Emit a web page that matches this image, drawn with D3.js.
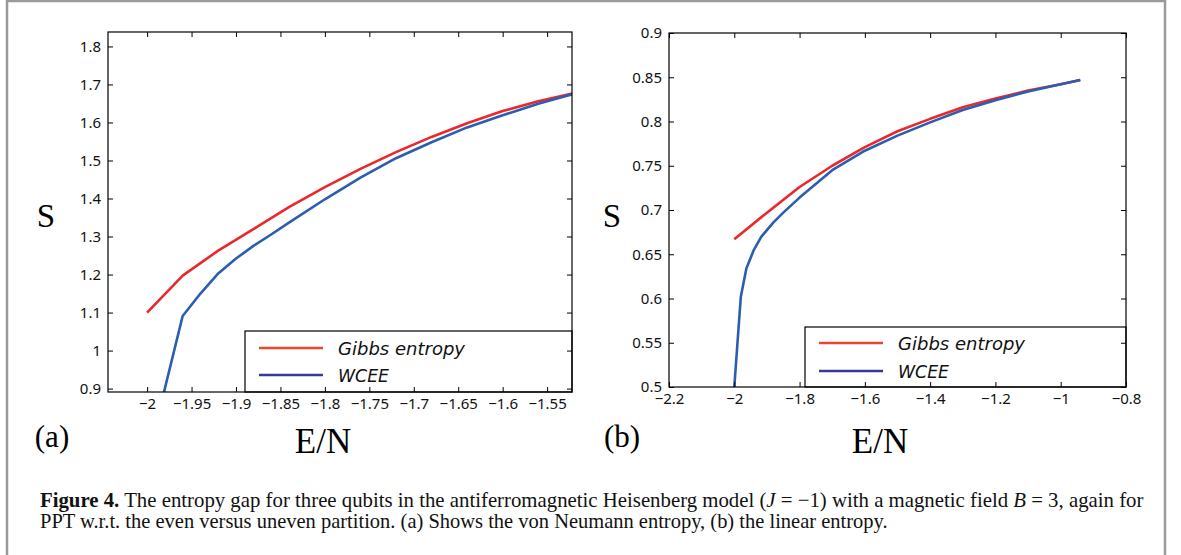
<!DOCTYPE html>
<html>
<head>
<meta charset="utf-8">
<script src="https://cdn.jsdelivr.net/npm/d3@7"></script>
<style>
  body { margin: 0; background: #fff; }
  svg { display: block; }
</style>
</head>
<body>
<div id="chart"></div>
<script>
// (a) von Neumann entropy
const gibbsA_E = [-2.0, -1.96, -1.92, -1.88, -1.84, -1.80, -1.76, -1.72, -1.68, -1.64, -1.60, -1.56, -1.52];
const gibbsA_S = [1.100, 1.197, 1.263, 1.320, 1.378, 1.430, 1.478, 1.522, 1.562, 1.598, 1.630, 1.656, 1.677];
const wceeA_E = [-2.0, -1.96, -1.94, -1.92, -1.90, -1.88, -1.86, -1.84, -1.80, -1.76, -1.72, -1.68, -1.64, -1.60, -1.56, -1.52];
const wceeA_S = [0.71, 1.091, 1.150, 1.203, 1.242, 1.276, 1.306, 1.337, 1.398, 1.455, 1.506, 1.548, 1.587, 1.619, 1.649, 1.675];
const xTicksA = [-2, -1.95, -1.9, -1.85, -1.8, -1.75, -1.7, -1.65, -1.6, -1.55];
const yTicksA = [0.9, 1, 1.1, 1.2, 1.3, 1.4, 1.5, 1.6, 1.7, 1.8];

// (b) linear entropy
const gibbsB_E = [-2.0, -1.9, -1.8, -1.7, -1.6, -1.5, -1.4, -1.3, -1.2, -1.1, -1.0, -0.94];
const gibbsB_S = [0.667, 0.697, 0.726, 0.750, 0.771, 0.789, 0.803, 0.816, 0.826, 0.835, 0.842, 0.847];
const wceeB_E = [-2.0, -1.98, -1.963, -1.94, -1.917, -1.88, -1.85, -1.8, -1.7, -1.6, -1.5, -1.4, -1.3, -1.2, -1.1, -1.0, -0.94];
const wceeB_S = [0.5, 0.602, 0.634, 0.655, 0.670, 0.686, 0.697, 0.714, 0.745, 0.767, 0.784, 0.799, 0.813, 0.824, 0.834, 0.842, 0.847];
const xTicksB = [-2.2, -2, -1.8, -1.6, -1.4, -1.2, -1, -0.8];
const yTicksB = [0.5, 0.55, 0.6, 0.65, 0.7, 0.75, 0.8, 0.85, 0.9];

const seriesNames = ['Gibbs entropy', 'WCEE'];

const W = 1181, H = 555;
const svg = d3.select('#chart').append('svg')
  .attr('width', W).attr('height', H);

// grey frame around the figure
svg.append('rect')
  .attr('x', 7).attr('y', 1).attr('width', 1158).attr('height', H + 10)
  .attr('fill', 'none').attr('stroke', '#9a9a9a').attr('stroke-width', 2.5);

const fmt = d3.format('~g');

const drawPanel = (p) => {
  const x = d3.scaleLinear().domain(p.xDomain).range([p.left, p.right]);
  const y = d3.scaleLinear().domain(p.yDomain).range([p.bottom, p.top]);
  const g = svg.append('g');

  const clipId = `clip-${p.tag}`;
  g.append('clipPath').attr('id', clipId)
    .append('rect')
    .attr('x', p.left).attr('y', p.top)
    .attr('width', p.right - p.left).attr('height', p.bottom - p.top);

  const line = d3.line().x((d) => x(d[0])).y((d) => y(d[1]));
  const curves = [
    { pts: d3.zip(p.gibbsE, p.gibbsS), color: '#e8292c' },
    { pts: d3.zip(p.wceeE, p.wceeS), color: '#2b5db0' },
  ];
  // blue drawn last, it sits on top where the lines meet
  curves.forEach((c) => {
    g.append('path')
      .attr('clip-path', `url(#${clipId})`)
      .attr('d', line(c.pts))
      .attr('fill', 'none')
      .attr('stroke', c.color)
      .attr('stroke-width', 2.6)
      .attr('stroke-linejoin', 'round');
  });

  // legend
  const lg = p.legend;
  g.append('rect')
    .attr('x', lg.x).attr('y', lg.y)
    .attr('width', p.right - lg.x).attr('height', p.bottom - lg.y)
    .attr('fill', '#fff').attr('stroke', '#000').attr('stroke-width', 1.2);
  const legendColors = ['#ec452c', '#35399a'];
  seriesNames.forEach((name, i) => {
    const ly = lg.y + lg.row0 + i * lg.step;
    g.append('line')
      .attr('x1', lg.x + 14).attr('x2', lg.x + 78)
      .attr('y1', ly).attr('y2', ly)
      .attr('stroke', legendColors[i]).attr('stroke-width', 2.6);
    g.append('text')
      .attr('x', lg.x + 93).attr('y', ly + 7)
      .attr('font-family', 'DejaVu Sans')
      .attr('font-style', 'italic')
      .attr('font-size', 17)
      .attr('textLength', i === 0 ? 127 : 51)
      .attr('lengthAdjust', 'spacingAndGlyphs')
      .attr('fill', '#111')
      .text(name);
  });

  // axes: MATLAB style box with inward ticks
  const tickFont = (sel) => sel.selectAll('text')
    .attr('font-family', 'Noto Sans, Open Sans, sans-serif')
    .attr('font-size', 15)
    .attr('fill', '#111');
  const clean = (sel) => {
    sel.select('.domain').remove();
    sel.selectAll('line').attr('stroke', '#000');
  };
  g.append('g').attr('transform', `translate(0,${p.bottom})`)
    .call(d3.axisBottom(x).tickValues(p.xTicks).tickFormat(fmt).tickSizeInner(-5).tickSizeOuter(0).tickPadding(6))
    .call(clean).call(tickFont);
  g.append('g').attr('transform', `translate(0,${p.top})`)
    .call(d3.axisTop(x).tickValues(p.xTicks).tickFormat('').tickSizeInner(-5).tickSizeOuter(0))
    .call(clean);
  g.append('g').attr('transform', `translate(${p.left},0)`)
    .call(d3.axisLeft(y).tickValues(p.yTicks).tickFormat(fmt).tickSizeInner(-5).tickSizeOuter(0).tickPadding(7))
    .call(clean).call(tickFont);
  g.append('g').attr('transform', `translate(${p.right},0)`)
    .call(d3.axisRight(y).tickValues(p.yTicks).tickFormat('').tickSizeInner(-5).tickSizeOuter(0))
    .call(clean);

  g.append('rect')
    .attr('x', p.left).attr('y', p.top)
    .attr('width', p.right - p.left).attr('height', p.bottom - p.top)
    .attr('fill', 'none').attr('stroke', '#000').attr('stroke-width', 1.2);

  // labels
  const serif = 'Liberation Serif, DejaVu Serif, serif';
  g.append('text')
    .attr('x', p.sX).attr('y', 227)
    .attr('text-anchor', 'middle')
    .attr('font-family', serif).attr('font-size', 33)
    .text('S');
  g.append('text')
    .attr('x', p.enX).attr('y', 453)
    .attr('text-anchor', 'middle')
    .attr('font-family', serif).attr('font-size', 35)
    .text('E/N');
  g.append('text')
    .attr('x', p.tagX).attr('y', 447)
    .attr('text-anchor', 'middle')
    .attr('font-family', serif).attr('font-size', 31)
    .text(`(${p.tag})`);
};

drawPanel({
  tag: 'a',
  left: 108, right: 572, top: 32, bottom: 392,
  xDomain: [-2.044, -1.522], yDomain: [0.891, 1.838],
  xTicks: xTicksA, yTicks: yTicksA,
  gibbsE: gibbsA_E, gibbsS: gibbsA_S, wceeE: wceeA_E, wceeS: wceeA_S,
  legend: { x: 245, y: 331, row0: 17, step: 27 },
  sX: 46, enX: 323, tagX: 52,
});

drawPanel({
  tag: 'b',
  left: 669, right: 1126, top: 33, bottom: 387,
  xDomain: [-2.2, -0.8], yDomain: [0.5, 0.9],
  xTicks: xTicksB, yTicks: yTicksB,
  gibbsE: gibbsB_E, gibbsS: gibbsB_S, wceeE: wceeB_E, wceeS: wceeB_S,
  legend: { x: 805, y: 327, row0: 16, step: 28 },
  sX: 612, enX: 880, tagX: 622,
});

// caption: condensed serif, squeezed horizontally to the printed width
const cap = svg.append('g')
  .attr('font-family', 'Liberation Serif, DejaVu Serif, serif')
  .attr('font-size', 21)
  .attr('fill', '#111');
const fitLine = (t, x0, y0, width) => {
  const k = width / t.node().getComputedTextLength();
  t.attr('transform', `translate(${x0},${y0}) scale(${k},1)`);
};
const l1 = cap.append('text');
l1.append('tspan').attr('font-weight', 'bold').text('Figure 4.');
l1.append('tspan').text(' The entropy gap for three qubits in the antiferromagnetic Heisenberg model (');
l1.append('tspan').attr('font-style', 'italic').text('J');
l1.append('tspan').text(' = −1) with a magnetic field ');
l1.append('tspan').attr('font-style', 'italic').text('B');
l1.append('tspan').text(' = 3, again for');
fitLine(l1, 40, 507, 1104);
const l2 = cap.append('text')
  .text('PPT w.r.t. the even versus uneven partition. (a) Shows the von Neumann entropy, (b) the linear entropy.');
fitLine(l2, 40, 528, 848);
</script>
</body>
</html>
